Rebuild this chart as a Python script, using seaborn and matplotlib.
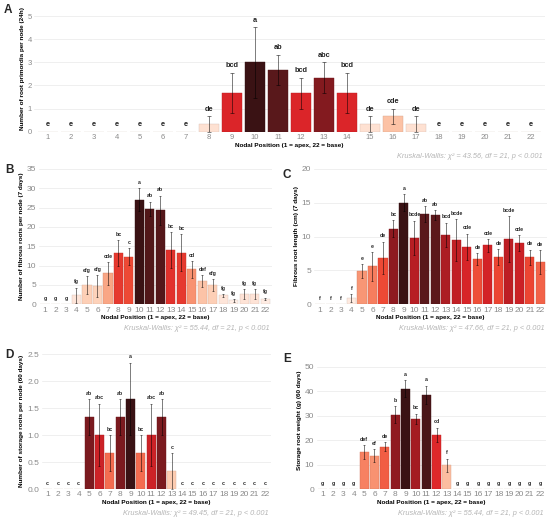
import matplotlib

matplotlib.use("Agg")
import matplotlib.pyplot as plt
import numpy as np
import pandas as pd
import seaborn as sns
from matplotlib.colors import LinearSegmentedColormap, to_rgb

nodes = [str(i) for i in range(1, 23)]

# A: root primordia (24h)
a_mean = [0, 0, 0, 0, 0, 0, 0, 0.33, 1.67, 3.0, 2.67, 1.67, 2.33, 1.67, 0.33, 0.67, 0.33, 0, 0, 0, 0, 0]
a_se = [0, 0, 0, 0, 0, 0, 0, 0.33, 0.88, 1.53, 0.67, 0.67, 0.67, 0.88, 0.33, 0.33, 0.33, 0, 0, 0, 0, 0]
a_sig = ["e", "e", "e", "e", "e", "e", "e", "de", "bcd", "a", "ab", "bcd", "abc", "bcd", "de", "cde", "de",
         "e", "e", "e", "e", "e"]

# B: fibrous roots count (7 days)
b_mean = [0, 0, 0, 2.33, 5.0, 4.67, 8.0, 13.33, 12.33, 27.0, 24.67, 24.33, 14.0, 13.33, 9.0, 6.0, 5.0,
          2.33, 1.0, 2.67, 2.67, 1.33]
b_se = [0, 0, 0, 2.0, 2.3, 2.8, 2.9, 3.3, 2.2, 3.0, 1.9, 3.7, 4.6, 4.8, 2.1, 1.5, 1.5, 0.33, 0.33, 1.2, 1.2, 0.33]
b_sig = ["g", "g", "g", "fg", "efg", "efg", "cde", "bc", "c", "a", "ab", "ab", "bc", "bc", "cd", "def", "efg",
         "fg", "fg", "fg", "fg", "fg"]

# C: fibrous root length (7 days)
c_mean = [0, 0, 0, 0.9, 4.9, 5.6, 6.85, 11.2, 15.0, 9.85, 13.3, 13.15, 10.25, 9.45, 8.5, 6.7, 8.7, 6.95, 9.65,
          9.05, 6.95, 6.25]
c_se = [0, 0, 0, 0.55, 1.05, 2.1, 2.4, 1.2, 1.25, 2.5, 1.2, 0.75, 1.8, 3.1, 1.9, 0.85, 0.95, 1.15, 3.35, 1.15,
        1.1, 1.75]
c_sig = ["f", "f", "f", "f", "e", "e", "de", "bc", "a", "bcde", "ab", "ab", "bcd", "bcde", "cde", "de", "cde",
         "de", "bcde", "cde", "de", "de"]

# D: storage roots count (60 days)
d_mean = [0, 0, 0, 0, 1.33, 1.0, 0.67, 1.33, 1.67, 0.67, 1.0, 1.33, 0.33, 0, 0, 0, 0, 0, 0, 0, 0, 0]
d_se = [0, 0, 0, 0, 0.33, 0.58, 0.33, 0.33, 0.67, 0.33, 0.58, 0.33, 0.33, 0, 0, 0, 0, 0, 0, 0, 0, 0]
d_sig = ["c", "c", "c", "c", "ab", "abc", "bc", "ab", "a", "bc", "abc", "ab", "c", "c", "c", "c", "c", "c",
         "c", "c", "c", "c"]

# E: storage root weight (60 days)
e_mean = [0, 0, 0, 0, 15.0, 13.6, 17.3, 30.4, 40.9, 28.7, 38.4, 22.2, 9.7, 0, 0, 0, 0, 0, 0, 0, 0, 0]
e_se = [0, 0, 0, 0, 2.8, 2.7, 1.8, 3.5, 3.5, 2.0, 3.7, 2.9, 2.7, 0, 0, 0, 0, 0, 0, 0, 0, 0]
e_sig = ["g", "g", "g", "g", "def", "ef", "de", "b", "a", "bc", "a", "cd", "f", "g", "g", "g", "g", "g", "g",
         "g", "g", "g"]

cmap = LinearSegmentedColormap.from_list("root_reds", [
    (0.0, "#fff4ee"), (0.1, "#fee3d6"), (0.2, "#fdcbb0"), (0.3, "#f9a482"), (0.38, "#f6795a"),
    (0.46, "#ec4632"), (0.55, "#dd2529"), (0.65, "#bb1e24"), (0.75, "#8e1a20"), (0.85, "#641a1d"),
    (1.0, "#3a1214"),
])

sns.set_theme(style="white")
plt.rcParams["font.family"] = ["Liberation Sans", "DejaVu Sans"]

W, H = 550, 523
fig = plt.figure(figsize=(W / 100, H / 100), dpi=100)


def px_axes(left, top, right, bottom):
    return fig.add_axes([left / W, 1 - bottom / H, (right - left) / W, (bottom - top) / H])


def draw_panel(ax, mean, se, sig, ymax, yticks, ylabel, kw, tick_fs, sig_fs, cap, lab_fs=4.6):
    df = pd.DataFrame({"node": nodes, "mean": mean, "se": se})
    vmax = max(mean)
    colors = [cmap(v / vmax) for v in mean]
    sns.barplot(data=df, x="node", y="mean", hue="node", palette=colors, legend=False,
                width=0.87, ax=ax, errorbar=None, saturation=1)
    for patch, c in zip(ax.patches, colors):
        r, g, b = to_rgb(c)
        patch.set_edgecolor((r * 0.85, g * 0.85, b * 0.85))
        patch.set_linewidth(0.3)
    x = np.arange(len(nodes))
    has_err = np.array(se) > 0
    ax.errorbar(x[has_err], np.array(mean)[has_err], yerr=np.array(se)[has_err], fmt="none",
                ecolor=(0, 0, 0, 0.6), elinewidth=0.6, capsize=cap, capthick=0.6)
    for xi, m, s, lab in zip(x, mean, se, sig):
        ax.annotate(lab, xy=(xi, m + s), xytext=(0, 2.5), textcoords="offset points",
                    ha="center", va="bottom", fontsize=sig_fs, fontweight="bold", color="#222222")
    ax.set_xlim(-0.6, len(nodes) - 0.4)
    ax.set_ylim(0, ymax)
    ax.set_yticks(yticks)
    ax.grid(axis="y", color="#ececec", linewidth=0.6)
    ax.grid(axis="x", visible=False)
    ax.set_axisbelow(True)
    for sp in ax.spines.values():
        sp.set_visible(False)
    ax.tick_params(axis="both", length=0, labelsize=tick_fs, colors="#8a8a8a", pad=1.8)
    ax.set_xlabel("Nodal Position (1 = apex, 22 = base)", fontsize=lab_fs, fontweight="bold",
                  color="black", labelpad=1)
    ax.set_ylabel(ylabel, fontsize=lab_fs, fontweight="bold", color="black", labelpad=2)
    ax.annotate(kw, xy=(1, 0), xycoords="axes fraction", xytext=(-1.5, -17.5),
                textcoords="offset points", ha="right", va="center", fontsize=5.3,
                style="italic", color="#b5b5b5")


ax_a = px_axes(34.2, 4.6, 545, 131.7)
draw_panel(ax_a, a_mean, a_se, a_sig, 5.5, [0, 1, 2, 3, 4, 5],
           "Number of root primordia per node (24h)",
           "Kruskal-Wallis: χ² = 43.56, df = 21, p < 0.001", 5.5, 5.3, 1.2)

ax_b = px_axes(38.7, 167.8, 271.6, 304.3)
draw_panel(ax_b, b_mean, b_se, b_sig, 35.3, [0, 5, 10, 15, 20, 25, 30, 35],
           "Number of fibrous roots per node (7 days)",
           "Kruskal-Wallis: χ² = 55.44, df = 21, p < 0.001", 6, 3.7, 0.7)

ax_c = px_axes(313.7, 167.6, 546.6, 304.3)
draw_panel(ax_c, c_mean, c_se, c_sig, 20.2, [0, 5, 10, 15, 20],
           "Fibrous root length (cm) (7 days)",
           "Kruskal-Wallis: χ² = 47.66, df = 21, p < 0.001", 6, 3.7, 0.7)

ax_d = px_axes(41.5, 352.4, 271.2, 489)
draw_panel(ax_d, d_mean, d_se, d_sig, 2.53, [0, 0.5, 1.0, 1.5, 2.0, 2.5],
           "Number of storage roots per node (60 days)",
           "Kruskal-Wallis: χ² = 49.45, df = 21, p < 0.001", 6, 3.8, 0.7)
ax_d.set_yticklabels(["0.0", "0.5", "1.0", "1.5", "2.0", "2.5"])

ax_e = px_axes(316.5, 352.4, 546.2, 489)
draw_panel(ax_e, e_mean, e_se, e_sig, 55.8, [0, 10, 20, 30, 40, 50],
           "Storage root weight (g) (60 days)",
           "Kruskal-Wallis: χ² = 55.44, df = 21, p < 0.001", 6, 3.8, 0.7)

for letter, (px, py) in {"A": (8, 10), "B": (9, 170), "C": (287, 175), "D": (9, 355), "E": (287, 359)}.items():
    fig.text(px / W, 1 - py / H, letter, fontsize=8.5, fontweight="bold", ha="center", va="center")

fig.savefig("out.png", dpi=100)
